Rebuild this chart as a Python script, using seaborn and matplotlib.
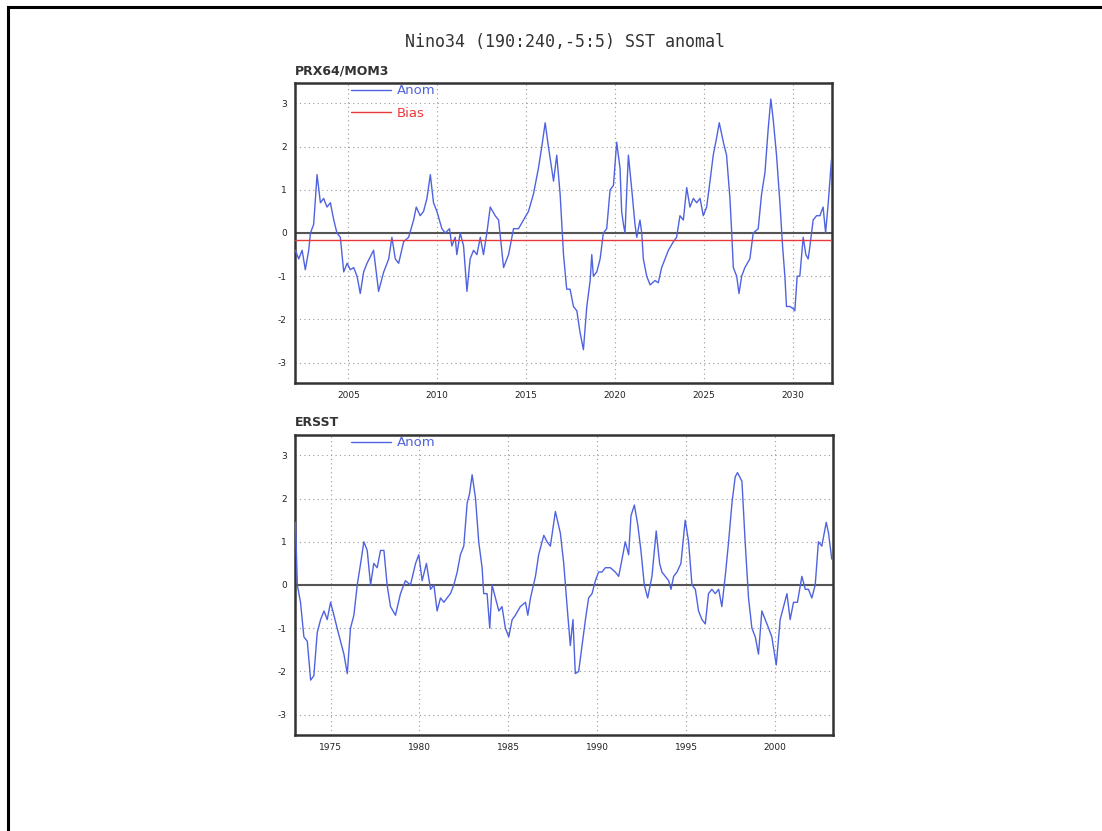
import numpy as np
import pandas as pd
import seaborn as sns
import matplotlib.pyplot as plt
from matplotlib.patches import Rectangle

# valores (anomalia de TSM Nino34)
MODEL_YEARS = [
    2002.02, 2002.21, 2002.40, 2002.58, 2002.77, 2002.87, 2003.05, 2003.24, 2003.43, 2003.61,
    2003.80, 2003.99, 2004.18, 2004.36, 2004.55, 2004.74, 2004.93, 2005.11, 2005.30, 2005.49,
    2005.67, 2005.86, 2006.05, 2006.42, 2006.70, 2006.99, 2007.27, 2007.45, 2007.64, 2007.83,
    2008.11, 2008.39, 2008.67, 2008.82, 2009.04, 2009.23, 2009.42, 2009.61, 2009.79, 2009.98,
    2010.26, 2010.45, 2010.69, 2010.82, 2011.01, 2011.10, 2011.29, 2011.48, 2011.67, 2011.85,
    2012.04, 2012.23, 2012.42, 2012.60, 2012.79, 2012.98, 2013.26, 2013.45, 2013.73, 2014.01,
    2014.29, 2014.57, 2014.85, 2015.13, 2015.41, 2015.69, 2015.88, 2016.07, 2016.25, 2016.54,
    2016.72, 2016.91, 2017.10, 2017.28, 2017.47, 2017.66, 2017.85, 2018.03, 2018.22, 2018.41,
    2018.60, 2018.69, 2018.78, 2018.97, 2019.16, 2019.34, 2019.53, 2019.72, 2019.91, 2020.09,
    2020.28, 2020.37, 2020.47, 2020.56, 2020.66, 2020.75, 2020.94, 2021.12, 2021.22, 2021.40,
    2021.50, 2021.59, 2021.78, 2021.97, 2022.25, 2022.43, 2022.62, 2022.81, 2023.00, 2023.28,
    2023.46, 2023.65, 2023.84, 2024.03, 2024.21, 2024.40, 2024.59, 2024.78, 2024.96, 2025.15,
    2025.34, 2025.52, 2025.71, 2025.86, 2026.09, 2026.27, 2026.46, 2026.56, 2026.65, 2026.84,
    2026.97, 2027.12, 2027.30, 2027.58, 2027.77, 2028.05, 2028.24, 2028.43, 2028.61, 2028.76,
    2028.90, 2029.08, 2029.27, 2029.42, 2029.55, 2029.64, 2029.83, 2030.02, 2030.11, 2030.24,
    2030.39, 2030.58, 2030.73, 2030.86, 2030.96, 2031.14, 2031.33, 2031.52, 2031.70, 2031.84,
    2031.99, 2032.17,
]
MODEL_ANOM = [
    -0.4, -0.6, -0.4, -0.85, -0.4, 0.0, 0.2, 1.35, 0.7, 0.8,
    0.6, 0.7, 0.3, 0.0, -0.1, -0.9, -0.7, -0.85, -0.8, -1.0,
    -1.4, -0.9, -0.7, -0.4, -1.35, -0.9, -0.6, -0.1, -0.6, -0.7,
    -0.2, -0.1, 0.3, 0.6, 0.4, 0.5, 0.8, 1.35, 0.7, 0.5,
    0.1, 0.0, 0.1, -0.3, -0.1, -0.5, 0.0, -0.3, -1.35, -0.6,
    -0.4, -0.5, -0.1, -0.5, 0.0, 0.6, 0.4, 0.3, -0.8, -0.5,
    0.1, 0.1, 0.3, 0.5, 0.9, 1.5, 2.0, 2.55, 2.0, 1.2,
    1.8, 0.9, -0.5, -1.3, -1.3, -1.7, -1.8, -2.3, -2.7, -1.7,
    -1.1, -0.5, -1.0, -0.9, -0.6, 0.0, 0.1, 1.0, 1.1, 2.1,
    1.5, 0.5, 0.2, 0.0, 1.0, 1.8, 1.0, 0.2, -0.1, 0.3,
    0.0, -0.6, -1.0, -1.2, -1.1, -1.15, -0.8, -0.6, -0.4, -0.2,
    -0.1, 0.4, 0.3, 1.05, 0.6, 0.8, 0.7, 0.8, 0.4, 0.6,
    1.2, 1.8, 2.2, 2.55, 2.1, 1.8, 0.8, 0.0, -0.8, -1.0,
    -1.4, -1.0, -0.8, -0.6, 0.0, 0.1, 0.9, 1.4, 2.4, 3.1,
    2.6, 1.8, 0.7, -0.3, -1.0, -1.7, -1.7, -1.75, -1.8, -1.0,
    -1.0, -0.1, -0.5, -0.6, -0.3, 0.3, 0.4, 0.4, 0.6, 0.0,
    0.7, 1.7,
]
MODEL_BIAS = -0.17

OBS_YEARS = [
    1973.03, 1973.13, 1973.31, 1973.50, 1973.69, 1973.88, 1974.06, 1974.25, 1974.44, 1974.63,
    1974.81, 1975.00, 1975.19, 1975.37, 1975.56, 1975.75, 1975.94, 1976.12, 1976.31, 1976.50,
    1976.69, 1976.87, 1977.06, 1977.25, 1977.43, 1977.62, 1977.81, 1978.00, 1978.18, 1978.37,
    1978.65, 1978.93, 1979.21, 1979.49, 1979.78, 1979.96, 1980.15, 1980.39, 1980.62, 1980.81,
    1980.99, 1981.18, 1981.37, 1981.55, 1981.74, 1981.93, 1982.12, 1982.30, 1982.49, 1982.68,
    1982.81, 1982.96, 1983.15, 1983.33, 1983.52, 1983.61, 1983.80, 1983.95, 1984.08, 1984.27,
    1984.46, 1984.64, 1984.83, 1985.02, 1985.21, 1985.39, 1985.67, 1985.96, 1986.09, 1986.24,
    1986.52, 1986.70, 1986.99, 1987.17, 1987.36, 1987.64, 1987.92, 1988.11, 1988.30, 1988.48,
    1988.63, 1988.76, 1988.95, 1989.14, 1989.33, 1989.51, 1989.70, 1989.89, 1990.07, 1990.26,
    1990.45, 1990.73, 1991.01, 1991.20, 1991.39, 1991.57, 1991.76, 1991.89, 1992.08, 1992.27,
    1992.45, 1992.64, 1992.83, 1993.07, 1993.31, 1993.50, 1993.63, 1993.82, 1994.01, 1994.14,
    1994.29, 1994.48, 1994.70, 1994.94, 1995.13, 1995.32, 1995.51, 1995.69, 1995.88, 1996.07,
    1996.25, 1996.44, 1996.63, 1996.82, 1997.00, 1997.19, 1997.38, 1997.57, 1997.75, 1997.88,
    1998.13, 1998.31, 1998.50, 1998.69, 1998.88, 1999.06, 1999.25, 1999.44, 1999.63, 1999.81,
    2000.06, 2000.28, 2000.47, 2000.66, 2000.84, 2001.03, 2001.25, 2001.50, 2001.69, 2001.87,
    2002.06, 2002.25, 2002.43, 2002.62, 2002.87, 2003.00, 2003.18,
]
OBS_ANOM = [
    1.45, 0.0, -0.4, -1.2, -1.3, -2.2, -2.1, -1.1, -0.8, -0.6,
    -0.8, -0.4, -0.7, -1.0, -1.3, -1.6, -2.05, -1.0, -0.7, 0.0,
    0.5, 1.0, 0.8, 0.0, 0.5, 0.4, 0.8, 0.8, 0.0, -0.5,
    -0.7, -0.2, 0.1, 0.0, 0.5, 0.7, 0.1, 0.5, -0.1, 0.0,
    -0.6, -0.3, -0.4, -0.3, -0.2, 0.0, 0.3, 0.7, 0.9, 1.9,
    2.1, 2.55, 2.0, 1.0, 0.4, -0.2, -0.2, -1.0, 0.0, -0.3,
    -0.6, -0.5, -1.0, -1.2, -0.8, -0.7, -0.5, -0.4, -0.7, -0.3,
    0.2, 0.7, 1.15, 1.0, 0.9, 1.7, 1.2, 0.5, -0.5, -1.4,
    -0.8, -2.05, -2.0, -1.4, -0.8, -0.3, -0.2, 0.1, 0.3, 0.3,
    0.4, 0.4, 0.3, 0.2, 0.6, 1.0, 0.7, 1.6, 1.85, 1.4,
    0.8, 0.0, -0.3, 0.2, 1.25, 0.5, 0.3, 0.2, 0.1, -0.1,
    0.2, 0.3, 0.5, 1.5, 1.0, 0.0, -0.1, -0.6, -0.8, -0.9,
    -0.2, -0.1, -0.2, -0.1, -0.5, 0.2, 1.0, 1.9, 2.5, 2.6,
    2.4, 1.0, -0.3, -1.0, -1.2, -1.6, -0.6, -0.8, -1.0, -1.2,
    -1.85, -0.8, -0.5, -0.2, -0.8, -0.4, -0.4, 0.2, -0.1, -0.1,
    -0.3, 0.0, 1.0, 0.9, 1.45, 1.2, 0.6,
]

MODEL_TICKS = [2005, 2010, 2015, 2020, 2025, 2030]
OBS_TICKS = [1975, 1980, 1985, 1990, 1995, 2000]
Y_TICKS = [-3, -2, -1, 0, 1, 2, 3]

BLUE = "#4f63e0"
RED = "#e8383a"

sns.set_style("white")
plt.rcParams["font.family"] = ["DejaVu Sans"]

fig = plt.figure(figsize=(11.02, 8.31), dpi=100)

# moldura externa (cortada a direita e embaixo)
fig.patches.append(Rectangle((7.5 / 1102, -0.05), 1.2, 1 - 7 / 831 + 0.05,
                             transform=fig.transFigure, fill=False,
                             edgecolor="black", linewidth=2.2))

ax_top = fig.add_axes([295 / 1102, 1 - 383 / 831, 537 / 1102, 300 / 831])
ax_bot = fig.add_axes([295 / 1102, 1 - 735 / 831, 538 / 1102, 300 / 831])

df_model = pd.DataFrame({"ano": MODEL_YEARS, "anom": MODEL_ANOM})
df_obs = pd.DataFrame({"ano": OBS_YEARS, "anom": OBS_ANOM})


def style_axis(ax, xlim, ticks, label):
    ax.set_xlim(*xlim)
    ax.set_ylim(-3.47, 3.47)
    ax.set_xticks(ticks)
    ax.set_yticks(Y_TICKS)
    ax.set_xticklabels([str(t) for t in ticks], fontsize=6.5)
    ax.set_yticklabels([str(t) for t in Y_TICKS], fontsize=6.5)
    ax.tick_params(axis="both", direction="out", length=3, width=0.8, pad=3,
                   colors="#222222")
    ax.grid(True, linestyle=(0, (1, 3)), color="#999999", linewidth=0.8)
    for s in ax.spines.values():
        s.set_linewidth(1.8)
        s.set_color("#333333")
    ax.axhline(0, color="#555555", linewidth=1.5, zorder=2)
    ax.set_xlabel("")
    ax.set_ylabel("")
    ax.text(0.0, 1.02, label, transform=ax.transAxes, fontsize=9,
            fontweight="bold", ha="left", va="bottom", color="#333333")


sns.lineplot(data=df_model, x="ano", y="anom", ax=ax_top, color=BLUE,
             linewidth=1.0, label="Anom", zorder=3)
ax_top.axhline(MODEL_BIAS, color=RED, linewidth=1.0, label="Bias", zorder=3)
style_axis(ax_top, (2002.0, 2032.2), MODEL_TICKS, "PRX64/MOM3")

sns.lineplot(data=df_obs, x="ano", y="anom", ax=ax_bot, color=BLUE,
             linewidth=1.0, label="Anom", zorder=3)
style_axis(ax_bot, (1973.0, 2003.25), OBS_TICKS, "ERSST")

for ax in (ax_top, ax_bot):
    ax.legend(loc="upper left", bbox_to_anchor=(0.092, 1.018), frameon=False,
              fontsize=9.5, handlelength=3.0, handletextpad=0.5,
              labelspacing=0.75, borderpad=0.0, labelcolor="linecolor")

fig.text(565 / 1102, 1 - 42 / 831, "Nino34 (190:240,-5:5) SST anomal",
         ha="center", va="center", fontsize=12, color="#333333",
         family="DejaVu Sans Mono")

fig.savefig("out.png", dpi=100)
plt.close(fig)
